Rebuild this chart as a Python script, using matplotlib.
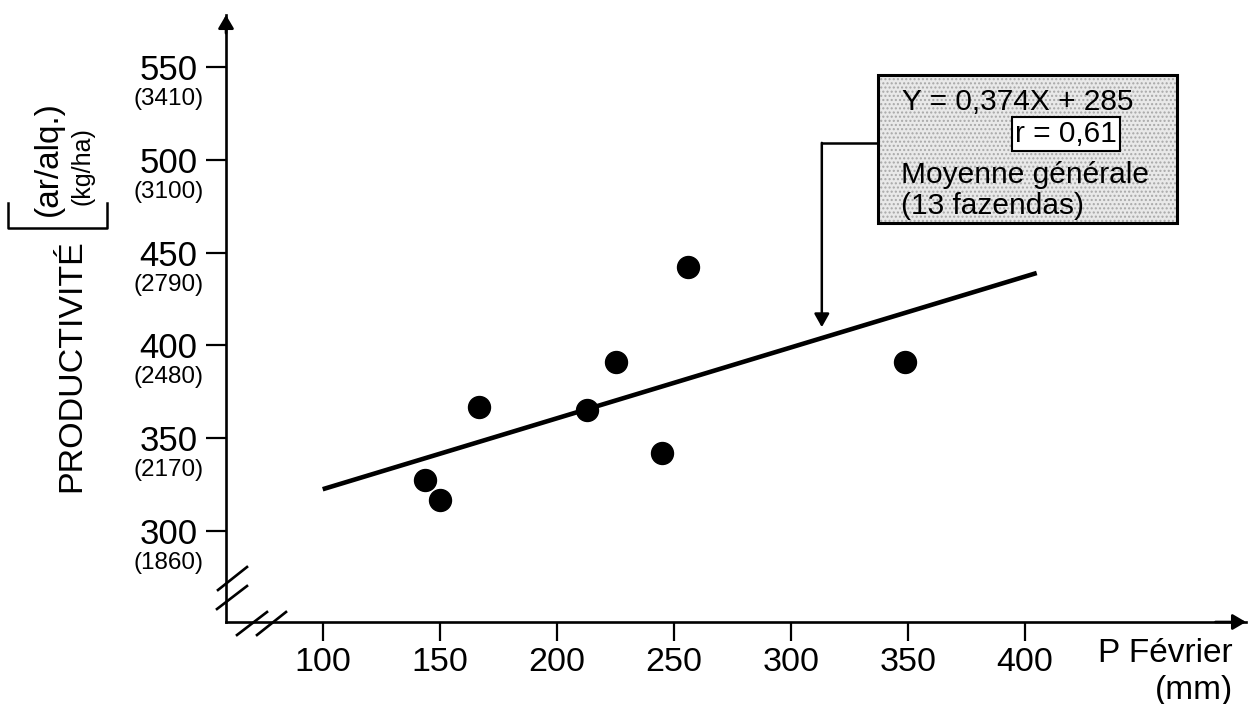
import matplotlib
matplotlib.use('Agg')
import matplotlib.pyplot as plt
from matplotlib.patches import Rectangle

plt.rcParams['font.family'] = ['Liberation Sans', 'DejaVu Sans']

# donnees
p_fev = [143.9, 150.1, 166.9, 212.8, 225.3, 244.8, 256.2, 348.7]
prod = [327.5, 316.7, 366.6, 365.2, 391.2, 342.2, 442.4, 391.2]
fit_x = [100, 405]
fit_y = [322.5, 439.0]

xticks = [100, 150, 200, 250, 300, 350, 400]
yticks = [300, 350, 400, 450, 500, 550]
kg_labels = ['(1860)', '(2170)', '(2480)', '(2790)', '(3100)', '(3410)']

W, H = 1248, 704


def fx(x):
    return x / W


def fy(y):
    return 1 - y / H


fig = plt.figure(figsize=(W / 100, H / 100), dpi=100)
ax = fig.add_axes([fx(226), fy(622), 1020 / W, (622 - 15) / H])
ax.set_xlim(58.69, 494.4)
ax.set_ylim(250.97, 578.0)

for s in ['top', 'right']:
    ax.spines[s].set_visible(False)
for s in ['left', 'bottom']:
    ax.spines[s].set_linewidth(1.9)

ax.set_xticks(xticks)
ax.set_xticklabels([str(v) for v in xticks])
ax.set_yticks(yticks)
ax.set_yticklabels([str(v) for v in yticks])
ax.tick_params(axis='x', direction='out', length=13.7, width=1.6, pad=4, labelsize=24.5)
ax.tick_params(axis='y', direction='out', length=14.4, width=1.6, pad=6, labelsize=25)

for y, lbl in zip(yticks, kg_labels):
    ax.annotate(lbl, xy=(0, y), xycoords=('axes fraction', 'data'),
                xytext=(-16, -23), textcoords='offset points',
                ha='right', va='center', fontsize=17.5)

# fleches des axes
ax.annotate('', xy=(0, 1), xycoords='axes fraction', xytext=(0, 0.97),
            arrowprops=dict(arrowstyle='-|>,head_length=0.8,head_width=0.47',
                            mutation_scale=10, color='black', lw=1.9,
                            shrinkA=0, shrinkB=0))
ax.annotate('', xy=(1, 0), xycoords='axes fraction', xytext=(0.97, 0),
            arrowprops=dict(arrowstyle='-|>,head_length=0.8,head_width=0.47',
                            mutation_scale=10, color='black', lw=1.9,
                            shrinkA=0, shrinkB=0))

# coupures des axes
for (x0, y0, x1, y1) in [(218, 590, 247, 567), (217, 609, 247, 586),
                         (237, 635, 267, 612), (257, 635, 286, 612)]:
    ax.plot([fx(x0), fx(x1)], [fy(y0), fy(y1)], color='black', lw=1.9,
            transform=fig.transFigure, clip_on=False)

# points et droite de regression
ax.plot(fit_x, fit_y, color='black', lw=3.3, solid_capstyle='butt', clip_on=False)
ax.scatter(p_fev, prod, s=250, color='black', zorder=3, clip_on=False)

# encadre
box_x0, box_x1 = 337.2, 465.0
box_y0, box_y1 = 466.0, 545.7
ax.add_patch(Rectangle((box_x0, box_y0), box_x1 - box_x0, box_y1 - box_y0,
                       facecolor='#e9e9e9', edgecolor='#a8a8a8', hatch='....',
                       lw=0, clip_on=False, zorder=4))
ax.add_patch(Rectangle((box_x0, box_y0), box_x1 - box_x0, box_y1 - box_y0,
                       facecolor='none', edgecolor='black', lw=2.2,
                       clip_on=False, zorder=5))

# renvoi vers la droite
ax.plot([box_x0, 313.2], [509.1, 509.1], color='black', lw=1.8, clip_on=False)
ax.annotate('', xy=(313.2, 409.8), xytext=(313.2, 509.1),
            arrowprops=dict(arrowstyle='-|>,head_length=0.8,head_width=0.45',
                            mutation_scale=10, color='black', lw=1.8,
                            shrinkA=0, shrinkB=0))

fig.text(fx(902), fy(110), 'Y = 0,374X + 285', fontsize=21.5, va='baseline', zorder=6)
fig.text(fx(1066), fy(142), 'r = 0,61', fontsize=21.5, va='baseline', ha='center', zorder=6,
         bbox=dict(boxstyle='square,pad=0.1', facecolor='white', edgecolor='black', lw=1.5))
fig.text(fx(901), fy(183), 'Moyenne générale', fontsize=21.5, va='baseline', zorder=6)
fig.text(fx(901), fy(214), '(13 fazendas)', fontsize=21.5, va='baseline', zorder=6)

# titres des axes
fig.text(fx(72), fy(366), 'PRODUCTIVITÉ', rotation=90, fontsize=24.5, ha='center', va='center')
fig.text(fx(48), fy(159), '(ar/alq.)', rotation=90, fontsize=24, ha='center', va='center')
fig.text(fx(82), fy(166), '(kg/ha)', rotation=90, fontsize=18, ha='center', va='center')
fig.add_artist(plt.Line2D([fx(8), fx(8), fx(107), fx(107)], [fy(203), fy(228), fy(228), fy(203)],
                          color='black', lw=1.8, transform=fig.transFigure))

fig.text(fx(1233), fy(653), 'P Février', fontsize=24, ha='right', va='center')
fig.text(fx(1233), fy(690), '(mm)', fontsize=24, ha='right', va='center')

fig.savefig('out.png', dpi=100, facecolor='white')
